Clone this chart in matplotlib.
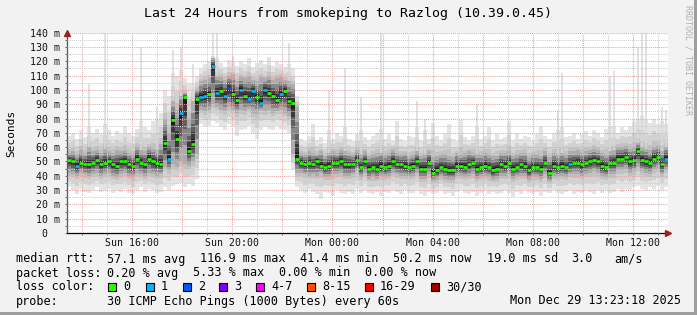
import datetime as dt
import matplotlib
matplotlib.use('Agg')
import matplotlib.pyplot as plt
import matplotlib.dates as mdates
from matplotlib.ticker import MultipleLocator, FuncFormatter
from matplotlib.patches import Rectangle

plt.rcParams['font.family'] = ['DejaVu Sans Mono']

# 150 columns of 9.6 min each, Sun 13:23:18 -> Mon 13:23:18
start = dt.datetime(2025, 12, 28, 13, 23, 18)
step = dt.timedelta(minutes=9.6)

# median rtt (ms) per column
med = [51, 50, 47, 49, 48, 48, 49, 51, 48, 49, 50, 48, 47, 50, 50, 48, 47, 52, 49, 48, 52, 50, 49, 48,
       63, 52, 79, 66, 84, 95, 57, 62, 94,
       95, 96, 97, 117, 98, 99, 96, 101, 97, 93, 100, 96, 94, 99, 95, 91, 100, 98, 96, 93, 97, 99, 92, 91,
       52, 49, 48, 49, 48, 50, 47, 46, 47, 49, 49, 50, 48, 48, 48, 51, 46, 50, 45, 46, 45,
       47, 46, 47, 50, 48, 48, 47, 46, 47, 50, 45, 45, 49, 42, 44, 46, 45, 44, 44, 47,
       47, 46, 48, 49, 45, 46, 47, 46, 44, 45, 48, 47, 49, 45, 46, 48, 47, 44, 46, 46,
       45, 49, 42, 47, 46, 47, 46, 48, 49, 49, 48, 49, 50, 51, 50, 47, 46, 49, 49, 52,
       52, 53, 50, 51, 57, 51, 50, 49, 52, 53, 48, 52]

# smoke: outer envelope (lo/hi) and inner band (dn/up)
hi = [68, 70, 66, 72, 67, 74, 70, 73, 69, 76, 72, 68, 71, 69, 75, 70, 68, 73, 78, 74, 72, 78, 80, 84,
      100, 96, 112, 110, 114, 108, 105, 104, 110,
      115, 118, 120, 124, 122, 119, 116, 121, 120, 117, 120, 118, 122, 116, 119, 121, 118, 123, 117, 120, 118, 116, 118, 115,
      96,
      66, 64, 68, 76, 65, 67, 63, 72, 66, 70, 68, 74, 66, 64, 69, 72, 67, 65, 68, 70,
      73, 66, 69, 64, 78, 66, 64, 68, 67, 74, 65, 72, 66, 77, 68, 65, 69, 76, 66, 64,
      79, 67, 65, 68, 75, 66, 68, 74, 65, 69, 66, 67, 78, 65, 70, 66, 68, 67, 64, 69,
      75, 68, 66, 70, 72, 74, 67, 68, 70, 66, 69, 71, 68, 72, 70, 67, 73, 74, 75, 70,
      74, 72, 75, 78, 80, 82, 79, 77, 80, 76, 78, 76]
up = [56, 57, 55, 58, 56, 60, 57, 58, 56, 59, 57, 56, 58, 57, 58, 56, 55, 60, 58, 57, 60, 59, 58, 62,
      80, 70, 92, 86, 96, 98, 80, 92, 100,
      106, 107, 108, 122, 110, 109, 107, 110, 111, 106, 109, 108, 110, 107, 106, 109, 108, 110, 107, 108, 109, 107, 106, 104,
      88,
      56, 55, 57, 56, 55, 57, 54, 56, 57, 56, 58, 57, 56, 55, 58, 55, 57, 54, 55, 56,
      56, 55, 56, 58, 56, 55, 56, 54, 55, 57, 54, 55, 57, 53, 54, 55, 55, 54, 53, 56,
      55, 56, 57, 56, 55, 55, 56, 55, 54, 54, 56, 56, 57, 54, 55, 56, 56, 53, 55, 55,
      54, 57, 53, 56, 55, 56, 55, 57, 57, 58, 56, 57, 58, 59, 58, 56, 55, 57, 58, 60,
      60, 61, 59, 60, 63, 60, 59, 58, 60, 61, 57, 60]
dn = [42, 41, 40, 42, 41, 40, 41, 42, 40, 41, 42, 40, 39, 41, 42, 40, 39, 42, 41, 40, 42, 41, 40, 41,
      46, 44, 48, 46, 50, 48, 47, 50, 55,
      86, 85, 86, 90, 88, 86, 85, 88, 86, 84, 86, 85, 87, 84, 83, 86, 85, 86, 84, 85, 86, 84, 82, 55,
      42,
      42, 41, 40, 41, 40, 42, 39, 39, 41, 41, 42, 40, 40, 41, 43, 39, 42, 38, 39, 38,
      40, 39, 40, 42, 41, 40, 40, 39, 40, 42, 38, 38, 41, 36, 37, 39, 38, 37, 37, 40,
      40, 39, 40, 41, 38, 39, 40, 39, 37, 38, 40, 40, 41, 38, 39, 40, 40, 37, 39, 39,
      38, 41, 36, 40, 39, 40, 39, 41, 41, 41, 40, 41, 42, 43, 42, 40, 39, 41, 41, 44,
      44, 45, 42, 43, 46, 43, 42, 41, 44, 45, 41, 44]
lo = [32, 30, 27, 31, 29, 28, 30, 32, 29, 30, 31, 28, 30, 29, 31, 28, 27, 30, 32, 29, 31, 30, 28, 29,
      32, 30, 33, 34, 35, 32, 34, 33, 38,
      76, 74, 75, 78, 77, 74, 72, 76, 74, 68, 72, 73, 75, 70, 66, 72, 74, 73, 72, 75, 73, 72, 70, 44,
      32,
      30, 28, 31, 29, 27, 24, 29, 28, 26, 30, 28, 27, 29, 27, 31, 28, 30, 28, 27, 29,
      26, 29, 28, 30, 29, 27, 30, 28, 28, 30, 27, 26, 29, 27, 28, 30, 27, 28, 26, 29,
      30, 28, 27, 29, 26, 28, 30, 27, 29, 27, 28, 30, 28, 25, 29, 27, 30, 28, 27, 29,
      26, 29, 28, 30, 28, 27, 29, 30, 27, 29, 28, 30, 29, 27, 30, 28, 30, 28, 29, 31,
      29, 31, 30, 32, 33, 31, 30, 32, 31, 33, 30, 32]

# thin single-ping spikes (column, top in ms)
spike_col = [5, 9, 18, 22, 26, 28, 31, 36, 37, 41, 55, 65, 69, 73, 78, 87, 89, 102,
             122, 123, 135, 136, 142, 143, 144, 148, 149]
spike_top = [104, 140, 130, 88, 128, 130, 118, 140, 140, 124, 133, 99, 115, 95, 140, 92, 80, 90,
             86, 112, 110, 113, 130, 140, 140, 88, 86]

# columns with packet loss (count of lost pings)
loss_cols = [2, 25, 28, 33, 34, 36, 37, 39, 40, 43, 45, 46, 48, 49, 53, 125, 149]
loss_vals = [1, 1, 1, 1, 1, 1, 1, 1, 2, 1, 1, 1, 1, 1, 1, 1, 1]

loss_labels = ['0', '1', '2', '3', '4-7', '8-15', '16-29', '30/30']
loss_colors = ['#26ff00', '#00b8ff', '#0059ff', '#7e00ff', '#ff00ff', '#ff5500', '#ff0000', '#a10000']

W, H = 697, 315
fig = plt.figure(figsize=(W / 100, H / 100), dpi=100, facecolor='#f2f2f2')
ax = fig.add_axes([66.7 / W, 1 - 233 / H, 601 / W, 200.3 / H])
ax.set_facecolor('white')

times = [start + step * i for i in range(len(med) + 1)]


def edge(v):
    return list(v) + [v[-1]]


# outer smoke, fading from the envelope towards the inner band
for f, c in [(1.0, '#e4e4e4'), (0.55, '#d2d2d2'), (0.2, '#c2c2c2')]:
    a = [d - (d - l) * f for d, l in zip(dn, lo)]
    b = [u + (h - u) * f for u, h in zip(up, hi)]
    ax.fill_between(times, edge(a), edge(b), step='post', color=c, lw=0, zorder=1)
ax.vlines([times[c] + step / 2 for c in spike_col], [up[c] for c in spike_col], spike_top,
          colors='#d8d8d8', lw=1.1, zorder=1.1)
# inner smoke, darkening towards the median
for f, c in [(1.0, '#acacac'), (0.72, '#878787'), (0.48, '#606060'), (0.28, '#3a3a3a'), (0.12, '#1c1c1c')]:
    a = [m - (m - d) * f for m, d in zip(med, dn)]
    b = [m + (u - m) * f for m, u in zip(med, up)]
    ax.fill_between(times, edge(a), edge(b), step='post', color=c, lw=0, zorder=1.2)

loss = [0] * len(med)
for c, v in zip(loss_cols, loss_vals):
    loss[c] = v
ax.hlines(med, times[:-1], times[1:], colors=[loss_colors[l] for l in loss], lw=1.9, zorder=3)

ax.set_xlim(times[0], times[-1])
ax.set_ylim(0, 140)

ax.xaxis.set_major_locator(mdates.HourLocator(byhour=range(0, 24, 2)))
ax.xaxis.set_minor_locator(mdates.HourLocator())
ax.xaxis.set_major_formatter(FuncFormatter(
    lambda v, p: mdates.num2date(v).strftime('%a %H:%M') if mdates.num2date(v).hour % 4 == 0 else ''))
ax.yaxis.set_major_locator(MultipleLocator(10))
ax.yaxis.set_minor_locator(MultipleLocator(5))
ax.yaxis.set_major_formatter(FuncFormatter(lambda v, p: '0  ' if v == 0 else f'{v:.0f} m'))

ax.set_axisbelow(False)
ax.grid(which='major', color='#e6a6a6', ls=(0, (1, 1)), lw=0.75)
ax.grid(which='minor', color='#cfcfcf', ls=(0, (1, 1)), lw=0.75)
ax.tick_params(which='both', direction='out', length=1.5, width=0.7, color='#666666',
               labelsize=7.1, labelcolor='#111111')
ax.tick_params(axis='x', pad=2.2)
ax.tick_params(axis='y', pad=3.2)

for s in ['top', 'right']:
    ax.spines[s].set_visible(False)
ax.spines['left'].set_color('#555555')
ax.spines['bottom'].set_color('#000000')
ax.spines['left'].set_linewidth(0.9)
ax.spines['bottom'].set_linewidth(0.9)

ax.plot([times[0]], [140], marker='^', ms=5, color='#a02020', clip_on=False, zorder=5)
ax.plot([times[-1]], [0], marker='>', ms=5, color='#a02020', clip_on=False, zorder=5)


def ftext(x, y, s, **kw):
    kw.setdefault('fontsize', 8.5)
    kw.setdefault('va', 'center')
    fig.text(x / W, 1 - y / H, s, **kw)


ftext(348, 13, 'Last 24 Hours from smokeping to Razlog (10.39.0.45)', ha='center', fontsize=9.5)
ftext(11, 133, 'Seconds', ha='center', rotation=90, fontsize=8)
ftext(688, 60, 'RRDTOOL / TOBI OETIKER', ha='center', rotation=270, fontsize=6, color='#b0b0b0')

ftext(16, 259, 'median rtt:')
for s, x in [('57.1 ms avg', 107), ('116.9 ms max', 200), ('41.4 ms min', 300), ('50.2 ms now', 393),
             ('19.0 ms sd', 487), ('3.0', 571), ('am/s', 614)]:
    ftext(x, 259, s)
ftext(16, 273, 'packet loss:')
for s, x in [('0.20 % avg', 107), ('5.33 % max', 193), ('0.00 % min', 279), ('0.00 % now', 365)]:
    ftext(x, 273, s)
ftext(16, 286.5, 'loss color:')
box_x = [108, 146, 183, 219, 256, 307, 365, 431]
for lab, c, x in zip(loss_labels, loss_colors, box_x):
    fig.patches.append(Rectangle((x / W, 1 - 291 / H), 8 / W, 8 / H, transform=fig.transFigure,
                                 facecolor=c, edgecolor='black', lw=0.8))
    ftext(x + 15, 286.5, lab)
ftext(16, 301, 'probe:')
ftext(107, 301, '30 ICMP Echo Pings (1000 Bytes) every 60s')
ftext(681, 301, 'Mon Dec 29 13:23:18 2025', ha='right')

# rrdtool style frame shading
fig.patches.append(Rectangle((694 / W, 0), 3 / W, 1, transform=fig.transFigure, color='#9e9e9e', lw=0))
fig.patches.append(Rectangle((0, 0), 1, 3 / H, transform=fig.transFigure, color='#9e9e9e', lw=0))

fig.savefig('out.png', dpi=100, facecolor=fig.get_facecolor())
